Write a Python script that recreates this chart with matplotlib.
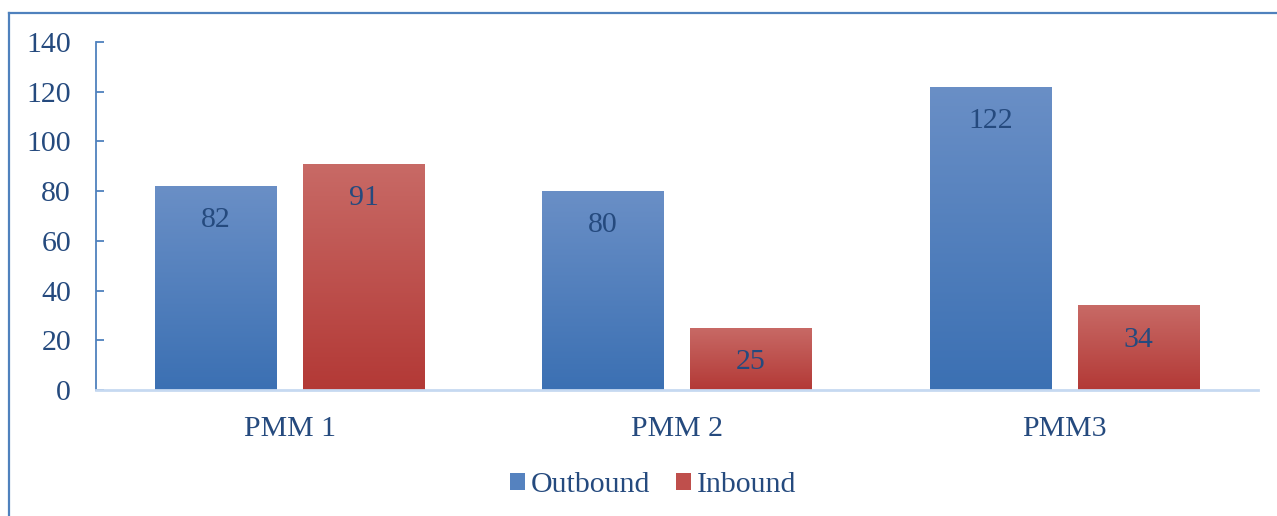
import numpy as np
import matplotlib
matplotlib.use("Agg")
import matplotlib.pyplot as plt
from matplotlib.colors import LinearSegmentedColormap
from matplotlib.lines import Line2D
from matplotlib.patches import Patch

# Data
categories = ["PMM 1", "PMM 2", "PMM3"]
outbound = [82, 80, 122]
inbound = [91, 25, 34]
series_names = ["Outbound", "Inbound"]
y_ticks = [0, 20, 40, 60, 80, 100, 120, 140]

# Style
TEXT = "#254a7e"
SPINE = "#4f81bd"
BASE = "#c6d9f1"
blue_top, blue_bot = "#6a8fc6", "#3b70b3"
red_top, red_bot = "#c86a66", "#b33936"
FS = 21.5

plt.rcParams["font.family"] = ["Liberation Serif", "DejaVu Serif"]

fig = plt.figure(figsize=(12.77, 5.16), dpi=100)
ax = fig.add_axes([96 / 1277, 1 - 390 / 516, (1258 - 96) / 1277, (390 - 42) / 516])

x = np.arange(len(categories))
width = 0.3125
offset = 0.191

def gradient_bars(xpos, values, c_top, c_bot, label):
    bars = ax.bar(xpos, values, width, color=c_bot, label=label, zorder=2)
    cmap = LinearSegmentedColormap.from_list(label, [c_bot, c_top])
    grad = np.linspace(0, 1, 256).reshape(-1, 1)
    for b in bars:
        x0, y0 = b.get_x(), b.get_y()
        w, h = b.get_width(), b.get_height()
        im = ax.imshow(grad, cmap=cmap, origin="lower", aspect="auto",
                       extent=[x0, x0 + w, y0, y0 + h], zorder=2.5)
        im.set_clip_path(b)
    return bars

b1 = gradient_bars(x - offset, outbound, blue_top, blue_bot, series_names[0])
b2 = gradient_bars(x + offset, inbound, red_top, red_bot, series_names[1])

# Value labels inside the bars, near the top
for bars, vals in ((b1, outbound), (b2, inbound)):
    for b, v in zip(bars, vals):
        ax.annotate(f"{v}", (b.get_x() + b.get_width() / 2, v),
                    xytext=(0, -24.5), textcoords="offset points",
                    ha="center", va="center", color=TEXT, fontsize=FS, zorder=4)

ax.set_xlim(-0.5, len(categories) - 0.5)
ax.set_ylim(0, 140)
ax.set_yticks(y_ticks)
ax.set_xticks(x)
ax.set_xticklabels(categories)

for s in ("top", "right"):
    ax.spines[s].set_visible(False)
ax.spines["left"].set_color(SPINE)
ax.spines["left"].set_linewidth(1.3)
ax.spines["bottom"].set_color(BASE)
ax.spines["bottom"].set_linewidth(2.0)
ax.spines["bottom"].set_zorder(5)

ax.tick_params(axis="y", direction="in", length=6, width=1.3, color=SPINE,
               labelsize=FS, labelcolor=TEXT, pad=18)
ax.tick_params(axis="x", length=0, labelsize=FS, labelcolor=TEXT, pad=19)

handles = [Patch(facecolor="#5582bf", edgecolor="none"),
           Patch(facecolor="#bf4f4c", edgecolor="none")]
leg = fig.legend(handles, series_names, loc="center", bbox_to_anchor=(653 / 1277, 1 - 485 / 516),
                 ncol=2, frameon=False, fontsize=FS, handlelength=0.5, handleheight=0.5,
                 handletextpad=0.2, columnspacing=0.85, borderpad=0)
for t in leg.get_texts():
    t.set_color(TEXT)

# Outer frame lines (left and top)
fig.add_artist(Line2D([9 / 1277, 9 / 1277], [0, 1 - 13 / 516], transform=fig.transFigure,
                      color=SPINE, linewidth=1.6))
fig.add_artist(Line2D([9 / 1277, 1], [1 - 13 / 516, 1 - 13 / 516], transform=fig.transFigure,
                      color=SPINE, linewidth=1.6))

fig.savefig("out.png", dpi=100)
